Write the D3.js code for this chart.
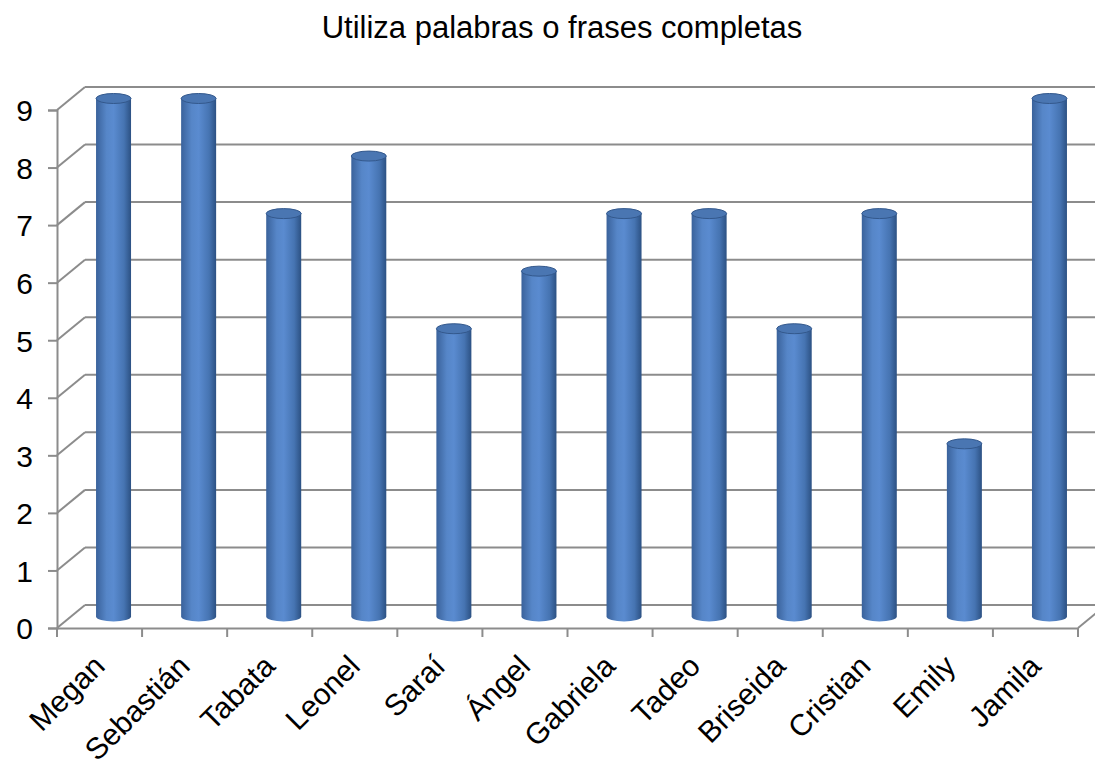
<!DOCTYPE html>
<html>
<head>
<meta charset="utf-8">
<script src="https://cdn.jsdelivr.net/npm/d3@7"></script>
<style>
  body { margin: 0; background: #fff; }
  text { font-family: "Liberation Sans", Arial, sans-serif; fill: #000; }
</style>
</head>
<body>
<div id="vis"></div>
<script>
// chart data
const names = ['Megan', 'Sebastián', 'Tabata', 'Leonel', 'Saraí', 'Ángel',
  'Gabriela', 'Tadeo', 'Briseida', 'Cristian', 'Emily', 'Jamila']
const scores = [9, 9, 7, 8, 5, 6, 7, 7, 5, 7, 3, 9]
const yTicks = [0, 1, 2, 3, 4, 5, 6, 7, 8, 9]
const title = 'Utiliza palabras o frases completas'

const W = 1095, H = 763
// front plane of the 3d box, depth offset to the back wall
const left = 57, right = 1078, floorY = 628, topY = 110
const depth = { dx: 28, dy: -23 }

const svg = d3.select('#vis').append('svg')
  .attr('width', W).attr('height', H)

const x = d3.scaleBand().domain(names).range([left, right])
const y = d3.scaleLinear().domain([0, 9]).range([floorY, topY])

// gradient for the cylinders
const defs = svg.append('defs')
const grad = defs.append('linearGradient').attr('id', 'cyl')
  .attr('x1', 0).attr('x2', 1).attr('y1', 0).attr('y2', 0)
grad.append('stop').attr('offset', 0).attr('stop-color', '#3a629b')
grad.append('stop').attr('offset', 0.3).attr('stop-color', '#5686c8')
grad.append('stop').attr('offset', 0.5).attr('stop-color', '#5a8bd0')
grad.append('stop').attr('offset', 0.8).attr('stop-color', '#4674b2')
grad.append('stop').attr('offset', 1).attr('stop-color', '#2c5183')

const gridColor = '#8c8c8c'

// title
svg.append('text')
  .attr('x', 562).attr('y', 38)
  .attr('text-anchor', 'middle')
  .style('font-size', '31px')
  .text(title)

// back wall gridlines + side wall diagonals
const grid = svg.append('g')
grid.selectAll('.back')
  .data(yTicks)
  .enter().append('line')
  .attr('x1', left + depth.dx).attr('x2', right + depth.dx + 20)
  .attr('y1', d => y(d) + depth.dy).attr('y2', d => y(d) + depth.dy)
  .attr('stroke', gridColor).attr('stroke-width', 2)

grid.selectAll('.side')
  .data(yTicks)
  .enter().append('line')
  .attr('x1', left).attr('x2', left + depth.dx)
  .attr('y1', d => y(d)).attr('y2', d => y(d) + depth.dy)
  .attr('stroke', gridColor).attr('stroke-width', 2)

// floor right edge
grid.append('line')
  .attr('x1', right).attr('y1', floorY)
  .attr('x2', right + depth.dx).attr('y2', floorY + depth.dy)
  .attr('stroke', gridColor).attr('stroke-width', 2)

// y axis
const yAxis = svg.append('g')
  .attr('transform', `translate(${left},0)`)
  .call(d3.axisLeft(y).tickValues(yTicks).tickSize(9).tickPadding(15).tickFormat(d3.format('d')))
yAxis.select('.domain').attr('stroke', gridColor).attr('stroke-width', 2)
yAxis.selectAll('.tick line').attr('stroke', gridColor).attr('stroke-width', 2)
yAxis.selectAll('.tick text').style('font-size', '30px')
  .attr('font-family', '"Liberation Sans", Arial, sans-serif').attr('dy', '0.36em')

// x axis
const xAxis = svg.append('g')
  .attr('transform', `translate(0,${floorY})`)
  .call(d3.axisBottom(x).tickSize(0).tickFormat(''))
xAxis.select('.domain').attr('stroke', gridColor).attr('stroke-width', 2)
xAxis.selectAll('.tick').remove()

const tickPos = d3.range(names.length + 1).map(i => left + i * x.step())
xAxis.selectAll('.xt')
  .data(tickPos)
  .enter().append('line')
  .attr('x1', d => d).attr('x2', d => d)
  .attr('y1', 0).attr('y2', 9)
  .attr('stroke', gridColor).attr('stroke-width', 2)

// category labels, rotated
svg.selectAll('.xl')
  .data(names)
  .enter().append('text')
  .attr('text-anchor', 'end')
  .style('font-size', '30px')
  .attr('transform', d => `translate(${x(d) + x.bandwidth() / 2 + 7},${floorY + 40}) rotate(-45)`)
  .text(d => d)

// cylinders at mid depth
const rx = 17.5, ry = 5
const bars = svg.selectAll('.bar')
  .data(names.map((n, i) => ({ name: n, value: scores[i] })))
  .enter().append('g')
  .attr('transform', d => `translate(${x(d.name) + x.bandwidth() / 2 + depth.dx / 2},${depth.dy / 2})`)

bars.append('path')
  .attr('fill', 'url(#cyl)')
  .attr('d', d => {
    const t = y(d.value), b = y(0)
    return `M${-rx},${t} L${-rx},${b} A${rx},${ry} 0 0 0 ${rx},${b} L${rx},${t} Z`
  })

bars.append('ellipse')
  .attr('cx', 0).attr('cy', d => y(d.value))
  .attr('rx', rx).attr('ry', ry)
  .attr('fill', '#4a76b2')
  .attr('stroke', '#33588c').attr('stroke-width', 1)
</script>
</body>
</html>
